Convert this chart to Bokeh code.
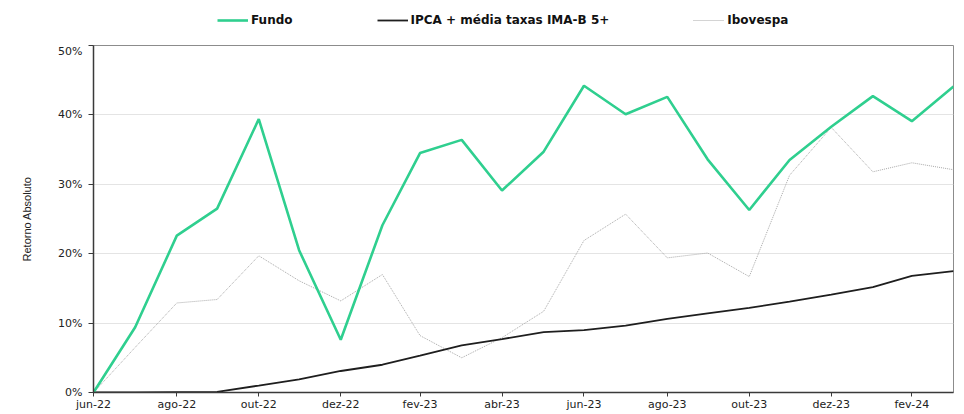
import numpy as np
import pandas as pd
from bokeh.plotting import figure
from bokeh.layouts import column
from bokeh.models import Range1d, FixedTicker, NumeralTickFormatter, Legend, LegendItem
from bokeh.embed import file_html
from bokeh.resources import INLINE

months = ["jun-22", "jul-22", "ago-22", "set-22", "out-22", "nov-22", "dez-22",
          "jan-23", "fev-23", "mar-23", "abr-23", "mai-23", "jun-23", "jul-23",
          "ago-23", "set-23", "out-23", "nov-23", "dez-23", "jan-24", "fev-24", "mar-24"]
dates = pd.date_range("2022-06-30", periods=len(months), freq="ME")

fundo = [0.0, 9.4, 22.6, 26.5, 39.4, 20.5, 7.6, 24.1, 34.5, 36.4, 29.1, 34.7,
         44.2, 40.1, 42.6, 33.6, 26.3, 33.5, 38.3, 42.7, 39.1, 44.1]
ipca = [0.0, 0.0, 0.05, 0.1, 1.0, 1.9, 3.1, 4.0, 5.3, 6.8, 7.7, 8.7,
        9.0, 9.65, 10.6, 11.4, 12.2, 13.1, 14.1, 15.2, 16.8, 17.5]
ibov = [0.0, 6.5, 12.9, 13.4, 19.7, 16.1, 13.2, 17.0, 8.2, 5.0, 7.9, 11.7,
        21.9, 25.7, 19.4, 20.1, 16.7, 31.3, 38.2, 31.8, 33.1, 32.1]
series_names = ["Fundo", "IPCA + média taxas IMA-B 5+", "Ibovespa"]

x = np.array([(d - dates[0]).days for d in dates], dtype=float)
to_frac = lambda v: np.array(v) / 100.0
series = [to_frac(fundo), to_frac(ipca), to_frac(ibov)]

styles = [dict(line_color="#2fcf8f", line_width=2.6),
          dict(line_color="#1e1e1e", line_width=1.8),
          dict(line_color="#a8a8a8", line_width=1, line_dash="1 1")]

# ---- legend strip (series drawn outside its visible range; only the legend shows) ----
leg = figure(width=964, height=44, output_backend="svg", toolbar_location=None,
             x_axis_location=None, y_axis_location=None,
             x_range=Range1d(0, x[-1]), y_range=Range1d(-3, -2),
             min_border_left=0, min_border_right=0, min_border_top=0, min_border_bottom=0)
leg.outline_line_color = None
leg.xgrid.grid_line_color = None
leg.ygrid.grid_line_color = None
leg_rs = [leg.line(x, s, **st) for s, st in zip(series, styles)]
legend = Legend(items=[LegendItem(label=n, renderers=[r]) for n, r in zip(series_names, leg_rs)],
                orientation="horizontal", location=(124, 17),
                spacing=84, glyph_width=31, glyph_height=14, label_standoff=3,
                label_text_font="DejaVu Sans", label_text_font_size="12px",
                label_text_font_style="bold", label_text_color="#111111",
                border_line_color=None, background_fill_alpha=0,
                padding=0, margin=0)
leg.add_layout(legend)

# ---- main chart ----
p = figure(width=964, height=370, output_backend="svg", toolbar_location=None,
           x_range=Range1d(0, x[-1]), y_range=Range1d(0, 0.5),
           min_border_left=93, min_border_right=11, min_border_top=1, min_border_bottom=22)
p.background_fill_color = "white"
p.border_fill_color = "white"
p.outline_line_color = "#8c8c8c"
p.outline_line_width = 1

p.line(x, series[2], **styles[2])
p.line(x, series[1], **styles[1])
p.line(x, series[0], **styles[0])

tick_idx = list(range(0, len(months), 2))
p.xaxis.ticker = FixedTicker(ticks=[x[i] for i in tick_idx])
p.xaxis.major_label_overrides = {x[i]: months[i] for i in tick_idx}
p.yaxis.ticker = FixedTicker(ticks=[0, 0.1, 0.2, 0.3, 0.4, 0.5])
p.yaxis.formatter = NumeralTickFormatter(format="0%")

for ax in (p.xaxis, p.yaxis):
    ax.axis_line_color = "#3a3a3a"
    ax.axis_line_width = 1.5
    ax.major_tick_line_color = "#3a3a3a"
    ax.major_tick_out = 5
    ax.major_tick_in = 0
    ax.minor_tick_line_color = None
    ax.major_label_text_font = "DejaVu Sans"
    ax.major_label_text_font_size = "11px"
    ax.major_label_text_color = "#222222"
p.yaxis.major_label_standoff = 6
p.xaxis.major_tick_out = 4
p.xaxis.major_label_standoff = 1

p.yaxis.axis_label = "Retorno Absoluto"
p.yaxis.axis_label_text_font = "Liberation Sans"
p.yaxis.axis_label_text_font_size = "11px"
p.yaxis.axis_label_text_font_style = "normal"
p.yaxis.axis_label_text_color = "#222222"
p.yaxis.axis_label_standoff = 22

p.xgrid.grid_line_color = None
p.ygrid.grid_line_color = "#e4e4e4"
p.ygrid.grid_line_width = 1

layout = column(leg, p, spacing=0)
open("out.html", "w").write(file_html(layout, INLINE))
